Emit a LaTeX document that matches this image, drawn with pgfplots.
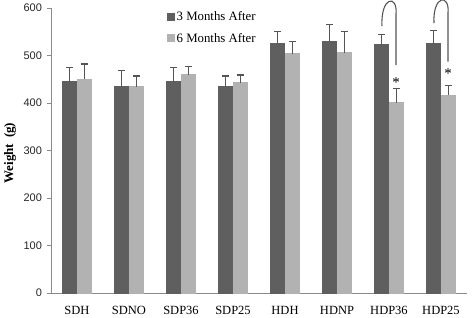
\documentclass[border=0pt]{standalone}
\usepackage{fontspec}
\setmainfont{Liberation Serif}
\newfontfamily\arialf{Liberation Sans}
\usepackage{pgfplots}
\pgfplotsset{compat=1.18}
\usepackage{pgfplotstable}
\definecolor{darkbar}{HTML}{5F5F5F}
\definecolor{lightbar}{HTML}{B2B2B2}
\definecolor{errc}{HTML}{555555}
\definecolor{axc}{HTML}{8A8A8A}
\pgfplotstableread{
x y ey
0 445 29
1 434 35
2 445 29
3 435 22
4 526 24
5 530 35
6 523 21
7 525 27
}\threemonths
\pgfplotstableread{
x y ey
0 450 32
1 434 23
2 459 18
3 443 16
4 504 26
5 506 44
6 401 29
7 416 21
}\sixmonths
\pgfplotsset{
  capbars/.style={
    error bars/.cd, y dir=plus, y explicit, error mark=-,
    error bar style={draw=errc, line width=1.2pt},
    error mark options={rotate=90, draw=errc, line width=1.2pt, mark size=3.6pt},
  },
}
\begin{document}
\begin{tikzpicture}[x=1pt,y=1pt]
\path[use as bounding box] (0,0) rectangle (472,317);
\begin{axis}[
  at={(51pt,24pt)}, anchor=south west,
  scale only axis, width=416pt, height=285pt,
  ybar=0.7pt, bar width=14pt,
  xmin=-0.5, xmax=7.5, ymin=0, ymax=600,
  xtick={0,...,7},
  xticklabels={SDH,SDNO,SDP36,SDP25,HDH,HDNP,HDP36,HDP25},
  minor xtick={-0.5,0.5,...,7.5},
  ytick={0,100,...,600},
  axis x line*=bottom, axis y line*=left,
  axis line style={axc, line width=0.8pt},
  every tick/.style={axc, line width=0.8pt},
  tick align=outside,
  x axis line style={-}, y axis line style={-},
  xtick style={draw=none},
  minor x tick style={axc, line width=0.8pt},
  minor tick length=4pt,
  major tick length=4pt,
  /pgf/number format/assume math mode=true,
  xticklabel style={font=\fontsize{12.5}{14}\selectfont, yshift=-6pt, text=black},
  yticklabel style={font=\arialf\fontsize{11}{12}\selectfont, xshift=-1.5pt, text=black!85},
  ylabel={\textbf{Weight\hspace{0.45em}(g)}},
  ylabel style={font=\fontsize{13}{14}\selectfont, at={(axis description cs:-0.0986,0.491)}, anchor=center},
  legend style={draw=none, fill=none, at={(axis description cs:0.28,0.995)}, anchor=north west,
    font=\fontsize{12.8}{14}\selectfont, row sep=7pt, inner sep=0pt},
  legend cell align=left,
  clip=false,
]
\addplot[fill=darkbar, draw=darkbar, line width=0pt,
  legend image code/.code={\fill[darkbar] (0pt,-3.5pt) rectangle (7pt,3.5pt);},
  capbars]
  table[x=x, y=y, y error=ey]{\threemonths};
\addlegendentry{3 Months After}
\addplot[fill=lightbar, draw=lightbar, line width=0pt,
  legend image code/.code={\fill[lightbar] (0pt,-3.5pt) rectangle (7pt,3.5pt);},
  capbars]
  table[x=x, y=y, y error=ey]{\sixmonths};
\addlegendentry{6 Months After}
\node[font=\fontsize{15}{15}\selectfont] at (axis cs:6.135,444) {*};
\node[font=\fontsize{15}{15}\selectfont] at (axis cs:7.135,462) {*};
\draw[errc, line width=1.1pt] (axis cs:5.865,562) .. controls (axis cs:5.84,626) and (axis cs:6.17,628) .. (axis cs:6.135,588) -- (axis cs:6.135,480);
\draw[errc, line width=1.1pt] (axis cs:6.865,568) .. controls (axis cs:6.84,628) and (axis cs:7.17,630) .. (axis cs:7.135,590) -- (axis cs:7.135,487);
\end{axis}
\end{tikzpicture}
\end{document}
